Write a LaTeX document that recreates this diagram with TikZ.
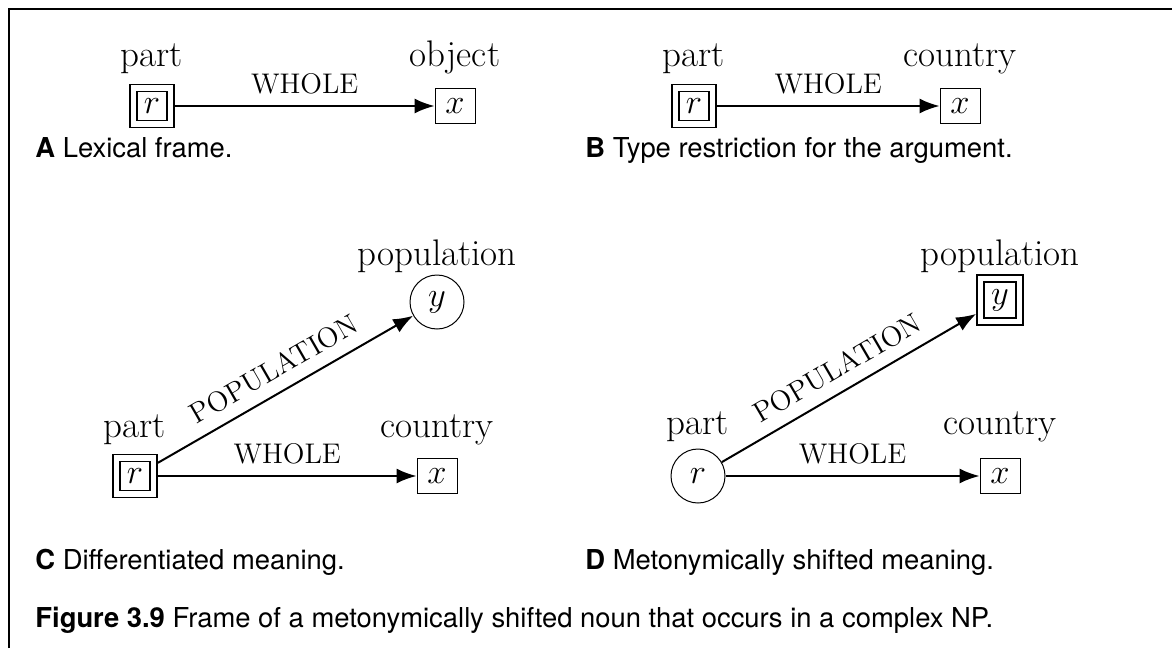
\documentclass[tikz,border=0pt]{standalone}
\usepackage{fontspec}
\newfontfamily\capfont{TeX Gyre Heros}
\usetikzlibrary{arrows.meta}

\begin{document}
\begin{tikzpicture}[x=0.5pt,y=-0.5pt,
  lbl/.style={font=\fontsize{18.5}{22}\selectfont, anchor=base, inner sep=0pt},
  rel/.style={font=\fontsize{14.2}{17}\selectfont, inner sep=0pt},
  captext/.style={font=\capfont\fontsize{13.7}{16}\selectfont, anchor=base west, inner sep=0pt},
  var/.style={font=\fontsize{17}{20}\selectfont, inner sep=0pt},
  vbox/.style={var, draw, line width=0.45pt, minimum width=20pt, minimum height=17.5pt},
  vcirc/.style={var, draw, circle, line width=0.5pt, minimum size=27pt},
  dbox/.style={var, draw, line width=0.8pt, minimum width=22pt, minimum height=21.5pt,
    path picture={\draw[line width=0.8pt]
      ([shift={(3.5pt,3.5pt)}]path picture bounding box.south west) rectangle
      ([shift={(-3.5pt,-3.5pt)}]path picture bounding box.north east);}},
  arr/.style={line width=1pt, -{Latex[length=10pt,width=7.5pt]}},
]
\useasboundingbox (0,0) rectangle (1172,648);

% frame along the top and left edges
\draw[line width=0.7pt] (9,648) -- (9,9) -- (1172,9);

% ---- A: lexical frame
\node[dbox] (rA) at (152,106) {$r$};
\node[vbox] (xA) at (455,106) {$x$};
\node[lbl] (pA) at (152,66) {part};
\node[lbl] (oA) at (455,66) {object};
\draw[arr] (rA) -- node[rel, above=5.3pt] {WHOLE} (xA);
\node[captext] (cA) at (35,157) {\textbf{A} Lexical frame.};

% ---- B: type restriction
\node[dbox] (rB) at (694,106) {$r$};
\node[vbox] (xB) at (960,106) {$x$};
\node[lbl] (pB) at (694,66) {part};
\node[lbl] (oB) at (960,66) {country};
\draw[arr] (rB) -- node[rel, above=5.3pt] {WHOLE} (xB);
\node[captext] (cB) at (585,157) {\textbf{B} Type restriction for the argument.};

% ---- C: differentiated meaning
\node[dbox] (rC) at (135,476) {$r$};
\node[vbox] (xC) at (437,476) {$x$};
\node[vcirc] (yC) at (437,302) {$y$};
\node[lbl] (pC) at (135,437) {part};
\node[lbl] (oC) at (437,437) {country};
\node[lbl] (qC) at (437,265) {population};
\draw[arr] (rC) -- node[rel, above=5.3pt] {WHOLE} (xC);
\draw[arr] (rC) -- node[rel, sloped, above=6pt] {POPULATION} (yC);
\node[captext] (cC) at (35,569) {\textbf{C} Differentiated meaning.};

% ---- D: metonymically shifted meaning
\node[vcirc] (rD) at (698,476) {$r$};
\node[vbox] (xD) at (1000,476) {$x$};
\node[dbox, minimum width=23pt, minimum height=25pt] (yD) at (1000,300) {$y$};
\node[lbl] (pD) at (698,434) {part};
\node[lbl] (oD) at (1000,434) {country};
\node[lbl] (qD) at (1000,265) {population};
\draw[arr] (rD) -- node[rel, above=5.3pt] {WHOLE} (xD);
\draw[arr] (rD) -- node[rel, sloped, above=6pt] {POPULATION} (yD);
\node[captext] (cD) at (585,569) {\textbf{D} Metonymically shifted meaning.};

% ---- figure caption
\node[captext] (fig) at (35,627) {\textbf{Figure 3.9} Frame of a metonymically shifted noun that occurs in a complex NP.};
\end{tikzpicture}
\end{document}
